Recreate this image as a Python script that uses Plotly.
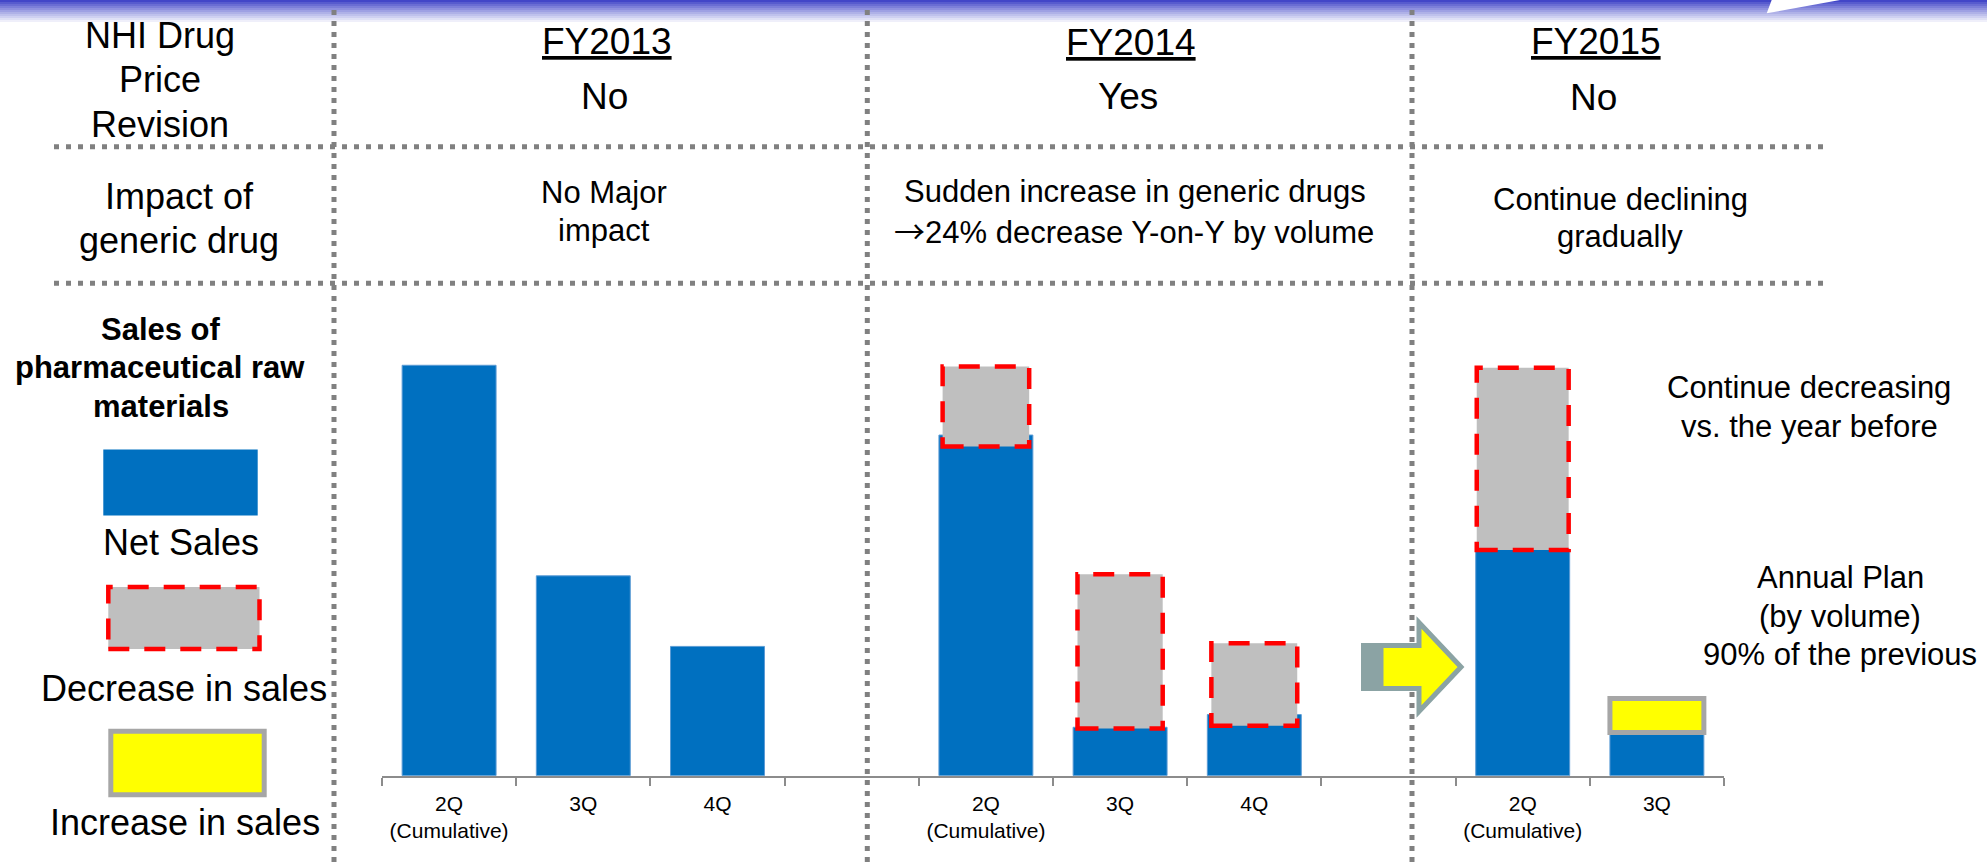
import plotly.graph_objects as go

W, H = 1987, 865
FONT = "Liberation Sans, Arial, sans-serif"

# ---- data (index: FY2013 2Q cumulative = 100) ----
quarter_labels = ["2Q<br>(Cumulative)", "3Q", "4Q", "",
                  "2Q<br>(Cumulative)", "3Q", "4Q", "",
                  "2Q<br>(Cumulative)", "3Q"]
net_sales = [100.0, 48.7, 31.5, None, 83.0, 11.8, 14.9, None, 55.2, 10.3]
decrease_top = [None, None, None, None, 99.7, 49.1, 32.3, None, 99.4, None]
decrease_base = [None, None, None, None, 80.2, 11.5, 12.2, None, 55.0, None]
increase_top = [None, None, None, None, None, None, None, None, None, 18.8]
increase_base = [None, None, None, None, None, None, None, None, None, 10.5]

positions = list(range(len(quarter_labels)))


def px(x):
    return x / W


def py(y):
    return 1 - y / H


fig = go.Figure()

# net sales
fig.add_trace(go.Bar(
    x=positions, y=net_sales, width=0.70,
    marker=dict(color="#0070C0", line=dict(color="#5B9BD5", width=1)),
    hoverinfo="skip",
))

# decrease in sales (grey blocks with red dashed outline)
dec_idx = [i for i, v in enumerate(decrease_top) if v is not None]
dec_w = [0.645, 0.635, 0.64, 0.685]
fig.add_trace(go.Bar(
    x=dec_idx,
    y=[decrease_top[i] - decrease_base[i] for i in dec_idx],
    base=[decrease_base[i] for i in dec_idx],
    width=dec_w,
    marker=dict(color="#BFBFBF", line=dict(width=0)),
    hoverinfo="skip",
))

# increase in sales (yellow block with grey frame)
inc_idx = [i for i, v in enumerate(increase_top) if v is not None]
fig.add_trace(go.Bar(
    x=inc_idx,
    y=[increase_top[i] - increase_base[i] for i in inc_idx],
    base=[increase_base[i] for i in inc_idx],
    width=0.70,
    marker=dict(color="#FFFF00", line=dict(color="#A6A6A6", width=5)),
    hoverinfo="skip",
))

shapes = []

# top banner gradient
steps = 12
for k in range(steps):
    t = (k / (steps - 1)) ** 0.9
    r = int(66 + (255 - 66) * t)
    g = int(70 + (255 - 70) * t)
    b = int(200 + (255 - 200) * t)
    shapes.append(dict(type="rect", xref="paper", yref="paper",
                       x0=0, x1=1, y0=py(2 * k + 2), y1=py(2 * k),
                       fillcolor=f"rgb({r},{g},{b})", line=dict(width=0), layer="below"))
# white swoosh at the top right
shapes.append(dict(type="path", xref="paper", yref="paper",
                   path=f"M {px(1766.7)},{py(13.3)} L {px(1771.7)},{py(0)} L {px(1840)},{py(0)} Z",
                   fillcolor="white", line=dict(width=0)))

# dashed outlines around the decrease blocks
for i, w in zip(dec_idx, dec_w):
    shapes.append(dict(type="rect", xref="x", yref="y",
                       x0=i - w / 2, x1=i + w / 2,
                       y0=decrease_base[i], y1=decrease_top[i],
                       line=dict(color="#FF0000", width=4.5, dash="21px,15px"),
                       fillcolor="rgba(0,0,0,0)", layer="above"))

# dotted grid separating the table
DOT = "#808080"
for yy in (146.7, 283.3):
    shapes.append(dict(type="line", xref="paper", yref="paper",
                       x0=px(54), x1=px(1830), y0=py(yy), y1=py(yy),
                       line=dict(color=DOT, width=5, dash="5px,7px"), layer="above"))
for xx in (334, 867.3, 1412):
    shapes.append(dict(type="line", xref="paper", yref="paper",
                       x0=px(xx), x1=px(xx), y0=py(10), y1=py(H),
                       line=dict(color=DOT, width=5, dash="5px,6px"), layer="above"))

# block arrow between FY2014 and FY2015
ARW = "#8BA3A4"
shapes.append(dict(type="rect", xref="paper", yref="paper",
                   x0=px(1361), x1=px(1381), y0=py(691), y1=py(643),
                   fillcolor=ARW, line=dict(width=0), layer="above"))
arrow_pts = [(1381, 645.5), (1419, 645.5), (1419, 622.5), (1461, 667),
             (1419, 711.5), (1419, 688.5), (1381, 688.5)]
path = "M " + " L ".join(f"{px(a)},{py(b)}" for a, b in arrow_pts) + " Z"
shapes.append(dict(type="path", xref="paper", yref="paper", path=path,
                   fillcolor="#FFFF00", line=dict(color=ARW, width=5), layer="above"))

# legend swatches
shapes.append(dict(type="rect", xref="paper", yref="paper",
                   x0=px(103.3), x1=px(257.7), y0=py(515.5), y1=py(449.5),
                   fillcolor="#0070C0", line=dict(width=0)))
shapes.append(dict(type="rect", xref="paper", yref="paper",
                   x0=px(108.3), x1=px(259.5), y0=py(649), y1=py(587),
                   fillcolor="#BFBFBF",
                   line=dict(color="#FF0000", width=4.5, dash="21px,15px")))
shapes.append(dict(type="rect", xref="paper", yref="paper",
                   x0=px(110.8), x1=px(264.2), y0=py(794.8), y1=py(731.3),
                   fillcolor="#FFFF00", line=dict(color="#A6A6A6", width=5)))

annotations = []


def label(text, x, baseline, size, bold=False):
    if bold:
        text = f"<b>{text}</b>"
    annotations.append(dict(
        text=text, x=px(x), y=py(baseline - 0.35 * size),
        xref="paper", yref="paper", xanchor="center", yanchor="middle",
        showarrow=False, font=dict(family=FONT, size=size, color="black"),
    ))


# row headers
label("NHI Drug", 160, 48, 36)
label("Price", 160, 92, 36)
label("Revision", 160, 137, 36)
label("Impact of", 179, 209, 36)
label("generic drug", 179, 253, 36)

# fiscal-year columns
label("<u>FY2013</u>", 607, 54, 37)
label("No", 604, 109, 37)
label("<u>FY2014</u>", 1131, 55, 37)
label("Yes", 1128, 109, 37)
label("<u>FY2015</u>", 1596, 54, 37)
label("No", 1593, 110, 37)

label("No Major", 604, 203, 31)
label("impact", 604, 241, 31)
label("Sudden increase in generic drugs", 1135, 202, 31)
label("<span style=\"font-family:'Noto Sans CJK JP'\">\u2192</span>24% decrease Y-on-Y by volume",
      1134, 240, 31)
label("Continue declining", 1620, 210, 31)
label("gradually", 1620, 247, 31)

# notes on the right
label("Continue decreasing", 1809, 398, 31)
label("vs. the year before", 1809, 437, 31)
label("Annual Plan", 1840, 588, 31)
label("(by volume)", 1840, 627, 31)
label("90% of the previous", 1840, 665, 31)

# legend captions
label("Sales of", 161, 340.5, 31, bold=True)
label("pharmaceutical raw", 160, 378.6, 31, bold=True)
label("materials", 161, 417, 31, bold=True)
label("Net Sales", 181, 555, 36)
label("Decrease in sales", 184, 701, 36)
label("Increase in sales", 185, 835, 36)

fig.update_layout(
    width=W, height=H,
    margin=dict(l=0, r=0, t=0, b=0),
    paper_bgcolor="white", plot_bgcolor="white",
    barmode="overlay", showlegend=False,
    font=dict(family=FONT, color="black"),
    shapes=shapes, annotations=annotations,
    xaxis=dict(
        domain=[382 / W, 1724 / W], range=[-0.5, len(quarter_labels) - 0.5],
        tickmode="array", tickvals=positions, ticktext=quarter_labels,
        ticks="", showline=True, linecolor="#8C8C8C", linewidth=2,
        showgrid=False, zeroline=False, fixedrange=True,
        tickfont=dict(family=FONT, size=21, color="black"),
        ticklabelstandoff=8,
        minor=dict(tickmode="array",
                   tickvals=[p - 0.5 for p in positions] + [positions[-1] + 0.5],
                   ticks="outside", ticklen=8, tickwidth=2, tickcolor="#8C8C8C",
                   showgrid=False),
    ),
    yaxis=dict(
        domain=[1 - 775.7 / H, 1 - 283.2 / H], range=[0, 120],
        visible=False, fixedrange=True,
    ),
)

fig.write_html("out.html")
